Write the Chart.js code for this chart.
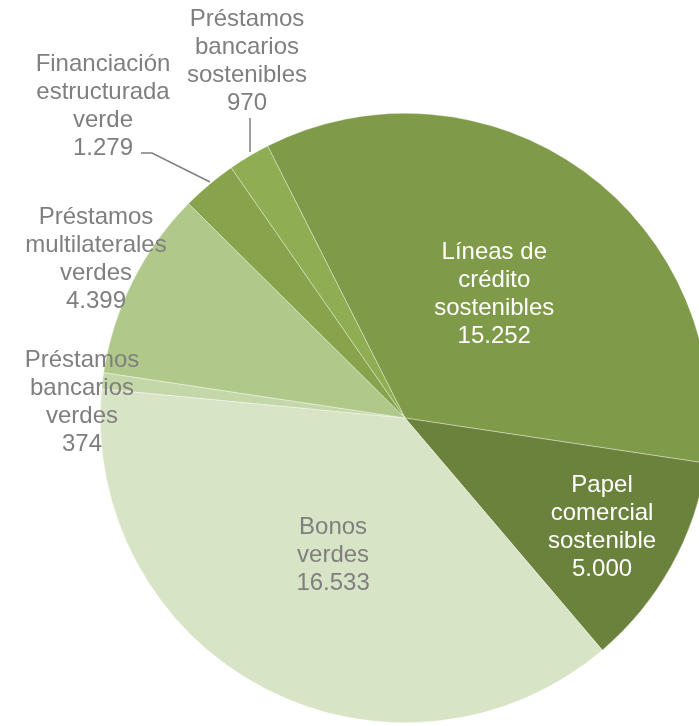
<!DOCTYPE html>
<html>
<head>
<meta charset="utf-8">
<script src="https://cdn.jsdelivr.net/npm/chart.js@4"></script>
<style>
  html, body { margin: 0; padding: 0; background: #fff; overflow: hidden; }
  #wrap { position: relative; width: 720px; height: 726px; }
</style>
</head>
<body>
<div id="wrap"><canvas id="chart"></canvas></div>
<script>
// datos (millones)
const categories = [
    ['Líneas de', 'crédito', 'sostenibles'],
    ['Papel', 'comercial', 'sostenible'],
    ['Bonos', 'verdes'],
    ['Préstamos', 'bancarios', 'verdes'],
    ['Préstamos', 'multilaterales', 'verdes'],
    ['Financiación', 'estructurada', 'verde'],
    ['Préstamos', 'bancarios', 'sostenibles']
];
const values = [15252, 5000, 16533, 374, 4399, 1279, 970];
const valueLabels = ['15.252', '5.000', '16.533', '374', '4.399', '1.279', '970'];

const sliceColors = ['#7F9A48', '#6B823C', '#D8E4C6', '#C4D7A8', '#B0C98B', '#88A34C', '#8FAD52'];
const textColors = ['#FFFFFF', '#FFFFFF', '#7F7F7F', '#7F7F7F', '#7F7F7F', '#7F7F7F', '#7F7F7F'];

// posiciones de etiquetas: r = fracción del radio (dentro), o x/y fijo (fuera)
const labelPlace = [
    { r: 0.50 },
    { r: 0.74 },
    { r: 0.51 },
    { x: 82, y: 402 },
    { x: 96, y: 259 },
    { x: 103, y: 106 },
    { x: 247, y: 61 }
];
// líneas guía
const leaders = [
    null, null, null, null, null,
    [[141, 153], [152, 153], [210, 182]],
    [[250, 118], [250, 152]]
];

const labelPlugin = {
    id: 'sliceLabels',
    afterDatasetsDraw(chart) {
        const ctx = chart.ctx;
        const meta = chart.getDatasetMeta(0);
        ctx.save();
        ctx.font = '24px "Liberation Sans", Arial, sans-serif';
        ctx.textAlign = 'center';
        ctx.textBaseline = 'middle';
        const lineH = 28;
        meta.data.forEach((arc, i) => {
            const p = labelPlace[i];
            let cx, cy;
            if (p.r !== undefined) {
                const mid = (arc.startAngle + arc.endAngle) / 2;
                const rr = arc.outerRadius * p.r;
                cx = arc.x + Math.cos(mid) * rr;
                cy = arc.y + Math.sin(mid) * rr;
            } else {
                cx = p.x; cy = p.y;
            }
            const lines = categories[i].concat([valueLabels[i]]);
            ctx.fillStyle = textColors[i];
            const top = cy - (lines.length - 1) * lineH / 2;
            lines.forEach((t, k) => ctx.fillText(t, cx, top + k * lineH));

            if (leaders[i]) {
                ctx.strokeStyle = '#7F7F7F';
                ctx.lineWidth = 1.5;
                ctx.beginPath();
                leaders[i].forEach((pt, k) => k ? ctx.lineTo(pt[0], pt[1]) : ctx.moveTo(pt[0], pt[1]));
                ctx.stroke();
            }
        });
        ctx.restore();
    }
};

new Chart(document.getElementById('chart'), {
    type: 'pie',
    data: {
        labels: categories.map(c => c.join(' ')),
        datasets: [{
            data: values,
            backgroundColor: sliceColors,
            borderColor: 'rgba(255,255,255,0.6)',
            borderWidth: 0.6
        }]
    },
    options: {
        responsive: true,
        maintainAspectRatio: false,
        animation: false,
        rotation: -26.8,
        layout: { padding: { left: 100, right: 10, top: 113, bottom: 3 } },
        plugins: {
            legend: { display: false },
            tooltip: { enabled: false }
        }
    },
    plugins: [labelPlugin]
});
</script>
</body>
</html>
